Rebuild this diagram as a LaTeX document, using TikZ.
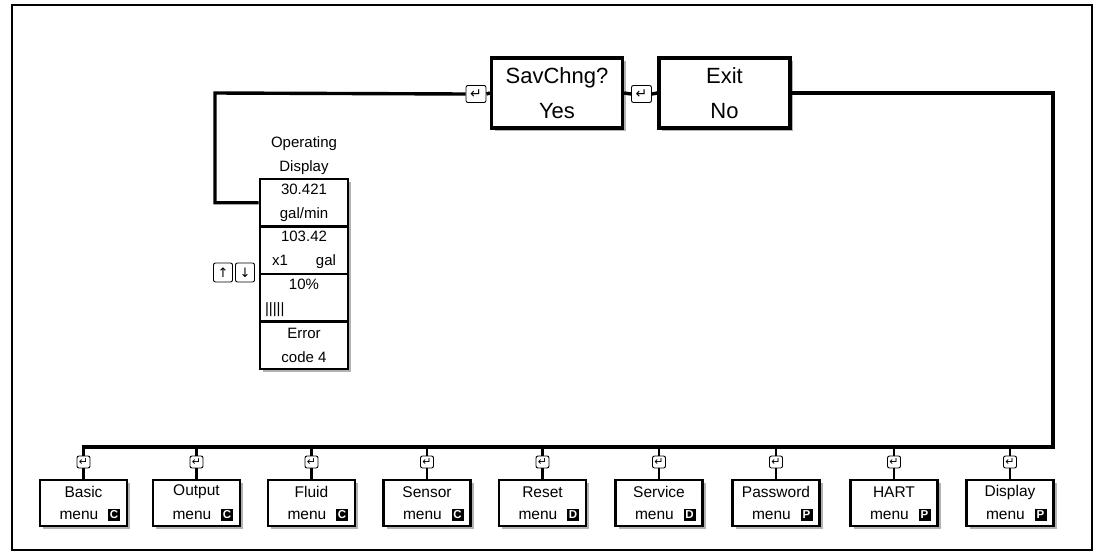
\documentclass[tikz,border=0pt]{standalone}
\usepackage{fontspec}
\setmainfont{Liberation Sans}
\newfontfamily\symfont{DejaVu Sans}
\usetikzlibrary{shadows}

\tikzset{
  wire/.style={line width=3.4pt},
  thinwire/.style={line width=2.2pt},
  boxshadow/.style={drop shadow={shadow xshift=3pt,shadow yshift=-3pt,fill=black!30,opacity=1}},
  topbox/.style={draw,line width=3.2pt,fill=white,minimum width=131pt,minimum height=70pt,
    inner sep=0pt,align=center,font=\fontsize{22}{35}\selectfont,boxshadow},
  keycap/.style={draw,fill=white,rounded corners=2pt,line width=0.9pt,inner sep=0pt},
  bigkey/.style={keycap,minimum width=20pt,minimum height=17pt,font=\symfont\fontsize{14}{14}\selectfont},
  arrowkey/.style={keycap,minimum width=19pt,minimum height=19pt,font=\symfont\fontsize{13}{13}\selectfont},
  smallkey/.style={keycap,minimum width=13pt,minimum height=12pt,font=\symfont\fontsize{11}{11}\selectfont},
  odcell/.style={draw,line width=2.8pt,fill=white,minimum width=88pt,minimum height=47.5pt,
    inner sep=0pt,align=center,font=\fontsize{15}{24}\selectfont,boxshadow},
  odtitle/.style={inner sep=0pt,align=center,font=\fontsize{15}{24}\selectfont},
  menubox/.style={draw,line width=2.8pt,fill=white,minimum width=87pt,minimum height=46pt,
    inner sep=0pt,boxshadow},
  menutext/.style={inner sep=0pt,font=\fontsize{15.5}{15.5}\selectfont},
  badge/.style={fill=black,text=white,inner sep=0pt,minimum size=12pt,
    font=\bfseries\fontsize{11.5}{11.5}\selectfont},
}

\begin{document}
\begin{tikzpicture}[x=1pt,y=-1pt]
\useasboundingbox (0,0) rectangle (1099,552);

% outer frame
\draw[line width=2.5pt] (12,5) rectangle (1092,550);

% save / exit prompts
\node[topbox] (sav) at (557,93) {SavChng?\\Yes};
\node[topbox] (ex) at (724.5,93) {Exit\\No};
\node[bigkey] (ek1) at (476,94) {↵};
\node[bigkey] (ek2) at (641.5,94) {↵};

% operating display stack
\node[odtitle] (odt) at (304,156) {Operating\\Display};
\node[odcell] (od1) at (304,202.75) {30.421\\gal/min};
\node[odcell] (od2) at (304,250.25) {103.42\\\makebox[64pt]{x1\hfill gal}};
\node[odcell] (od3) at (304,297.75) {10\%\\\makebox[78pt][l]{|||||}};
\node[odcell] (od4) at (304,345.25) {Error\\code 4};
\node[arrowkey] (up) at (223,272.5) {↑};
\node[arrowkey] (down) at (245,272.5) {↓};

% wiring along the top
\coordinate (c1) at (215,93);
\coordinate (c2) at (c1 |- od1.west);
\coordinate (c3) at (1053,93);
\coordinate (c4) at (1053,447);
\draw[wire] (sav.west) -- (ek1.east);
\draw[wire] (ek1.west) -- (c1) -- (c2) -- (od1.west);
\draw[wire] (sav.east) -- (ek2.west);
\draw[wire] (ek2.east) -- (ex.west);

% menu row
\foreach \cx/\name/\lt [count=\i] in {83.5/Basic/C, 196.5/Output/C, 311.5/Fluid/C,
    427/Sensor/C, 542.5/Reset/D, 659/Service/D, 776/Password/P, 894/HART/P, 1010/Display/P} {
  \coordinate (t\i) at (\cx,447);
  \node[smallkey] (k\i) at (\cx,462) {↵};
  \node[menubox] (m\i) at (\cx,503) {};
  \node[menutext] (mt\i) at (\cx,492) {\name};
  \node[badge] (b\i) at (\cx+30.5,515) {\lt};
  \node[menutext,anchor=east] (mm\i) at (\cx+15,515) {menu};
  \draw[thinwire] (t\i) -- (k\i.north);
  \draw[thinwire] (k\i.south) -- (m\i.north);
}
\draw[wire] (ex.east) -- (c3) -- (c4) -- (t1) -- ([yshift=-2pt]t1);
\end{tikzpicture}
\end{document}
